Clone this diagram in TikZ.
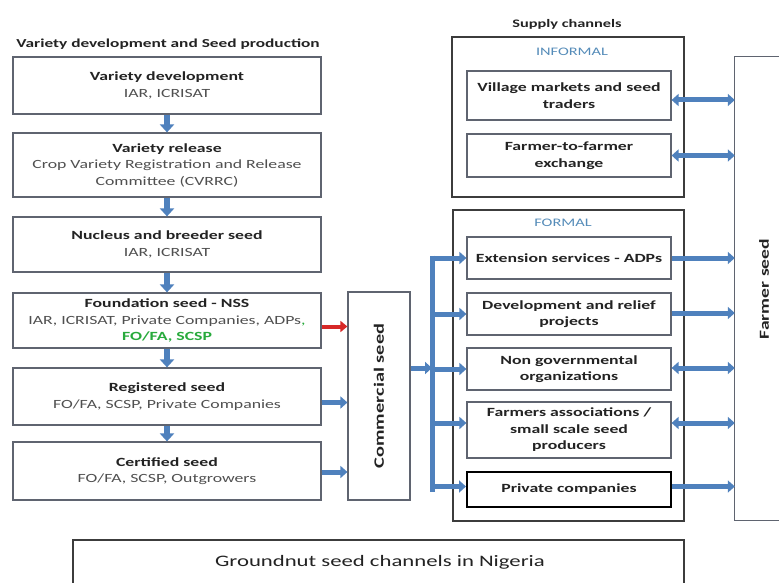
\documentclass[tikz,border=0pt]{standalone}
\usepackage{fontspec}
\setmainfont{Carlito}[FakeStretch=1.42]
\usetikzlibrary{arrows.meta}
\definecolor{arrblue}{RGB}{79,129,189}
\definecolor{boxgray}{RGB}{95,100,112}
\definecolor{outergray}{RGB}{60,60,60}
\definecolor{txt}{RGB}{35,35,35}
\definecolor{txtlight}{RGB}{80,80,80}
\definecolor{labblue}{RGB}{85,140,185}
\definecolor{seedgreen}{RGB}{40,170,60}
\definecolor{arrred}{RGB}{215,40,40}
\tikzset{
  x=1pt, y=-1pt,
  every node/.style={font=\fontsize{12.5}{16.5}\selectfont, text=txt},
  lbox/.style={draw=boxgray, line width=1.2pt, minimum width=308pt, minimum height=#1, inner sep=0pt, align=center},
  rbox/.style={draw=boxgray, line width=1.2pt, minimum width=204pt, minimum height=#1, inner sep=0pt, align=center, font=\bfseries\fontsize{12.5}{16.5}\selectfont},
  outerbox/.style={draw=outergray, line width=2pt, inner sep=0pt},
  downarr/.style={draw=arrblue, line width=6.5pt, -{Triangle[width=14pt,length=8pt]}},
  blkarr/.style={draw=arrblue, line width=5pt, -{Triangle[width=12pt,length=7pt]}},
  dblarr/.style={draw=arrblue, line width=5pt, {Triangle[width=12pt,length=7pt]}-{Triangle[width=12pt,length=7pt]}},
  redarr/.style={draw=arrred, line width=4pt, -{Triangle[width=11pt,length=7pt]}},
  heading/.style={font=\bfseries\fontsize{12.2}{15}\selectfont}
}
\begin{document}
\begin{tikzpicture}
\useasboundingbox (0,0) rectangle (779,583);
\fill[white] (0,0) rectangle (779,583);

% titles
\node[heading] (ltitle) at (168,44) {Variety development and Seed production};
\node[heading, font=\bfseries\fontsize{11.5}{14}\selectfont] (stitle) at (567,24) {Supply channels};

% left column
\node[lbox=57pt] (b1) at (167,85.5) {\textbf{Variety development}\\{\color{txtlight}IAR, ICRISAT}};
\node[lbox=64pt] (b2) at (167,165) {\textbf{Variety release}\\{\color{txtlight}Crop Variety Registration and Release}\\{\color{txtlight}Committee (CVRRC)}};
\node[lbox=55pt] (b3) at (167,244.5) {\textbf{Nucleus and breeder seed}\\{\color{txtlight}IAR, ICRISAT}};
\node[lbox=55pt] (b4) at (167,320.5) {\textbf{Foundation seed - NSS}\\{\color{txtlight}IAR, ICRISAT, Private Companies, ADPs}{\color{seedgreen},}\\{\color{seedgreen}\bfseries FO/FA, SCSP}};
\node[lbox=57pt] (b5) at (167,396.5) {\textbf{Registered seed}\\{\color{txtlight}FO/FA, SCSP, Private Companies}};
\node[lbox=58pt] (b6) at (167,471) {\textbf{Certified seed}\\{\color{txtlight}FO/FA, SCSP, Outgrowers}};

\draw[downarr] (b1.south) -- (b2.north);
\draw[downarr] (b2.south) -- (b3.north);
\draw[downarr] (b3.south) -- (b4.north);
\draw[downarr] (b4.south) -- (b5.north);
\draw[downarr] (b5.south) -- (b6.north);

% commercial seed
\node[draw=boxgray, line width=1.2pt, minimum width=62pt, minimum height=208pt, inner sep=0pt] (com) at (379,396) {};
\node[rotate=90, font=\bfseries\fontsize{14.3}{17}\selectfont] (comlab) at (com.center) {Commercial seed};

\draw[redarr] ([yshift=-6pt]b4.east) -- ([yshift=-6pt]b4.east -| com.west);
\draw[blkarr] ([yshift=-6pt]b5.east) -- ([yshift=-6pt]b5.east -| com.west);
\draw[blkarr] ([yshift=-1pt]b6.east) -- ([yshift=-1pt]b6.east -| com.west);

% informal
\node[outerbox, minimum width=232pt, minimum height=160pt] (inf) at (568,117) {};
\node[text=labblue, font=\fontsize{11.5}{14}\selectfont] (inflab) at (572,52) {INFORMAL};
\node[rbox=49pt] (vil) at (569,95.5) {Village markets and seed\\traders};
\node[rbox=43pt] (f2f) at (569,155.5) {Farmer-to-farmer\\exchange};

% formal
\node[outerbox, minimum width=231pt, minimum height=311pt] (for) at (568.5,365.5) {};
\node[text=labblue, font=\fontsize{11.5}{14}\selectfont] (forlab) at (563,223) {FORMAL};
\node[rbox=42pt] (ext) at (569,258) {Extension services - ADPs};
\node[rbox=42pt] (dev) at (569,314) {Development and relief\\projects};
\node[rbox=42pt] (ngo) at (569,369) {Non governmental\\organizations};
\node[rbox=56pt] (fa) at (569,430) {Farmers associations /\\small scale seed\\producers};
\node[rbox=35pt, draw=black, line width=2pt] (pc) at (569,489.5) {Private companies};

% farmer seed
\node[minimum width=44pt, minimum height=463pt, inner sep=0pt] (farm) at (757,288.5) {};
\draw[boxgray, line width=1.2pt] (farm.north east) -- (farm.north west) -- (farm.south west) -- (farm.south east);
\node[rotate=90, font=\bfseries\fontsize{13.8}{17}\selectfont] (farmlab) at (764,289) {Farmer seed};

% bottom title
\node[minimum width=611pt, minimum height=43pt, inner sep=0pt] (gt) at (378.5,561.5) {};
\draw[outergray, line width=2pt] (gt.south west) -- (gt.north west) -- (gt.north east) -- (gt.south east);
\node[font=\fontsize{16}{19}\selectfont] (gtlab) at (380,562) {Groundnut seed channels in Nigeria};

% bus
\coordinate (bt) at (432,258);
\coordinate (bb) at (432,489.5);
\draw[arrblue, line width=5pt] ([yshift=2.5pt]bt) -- ([yshift=-2.5pt]bb);
\draw[blkarr] ([yshift=28pt]com.east) -- ([yshift=28pt]com.east -| bt);
\draw[blkarr] (bt) -- (ext.west);
\draw[blkarr] (dev.west -| bt) -- (dev.west);
\draw[blkarr] (ngo.west -| bt) -- (ngo.west);
\draw[blkarr] ([yshift=7pt]fa.west -| bt) -- ([yshift=7pt]fa.west);
\draw[blkarr] ([yshift=3pt]pc.west -| bt) -- ([yshift=3pt]pc.west);

% to farmer seed
\draw[dblarr] ([yshift=-4.5pt]vil.east) -- ([yshift=-4.5pt]vil.east -| farm.west);
\draw[dblarr] (f2f.east) -- (f2f.east -| farm.west);
\draw[blkarr] (ext.east) -- (ext.east -| farm.west);
\draw[blkarr] ([yshift=1pt]dev.east) -- ([yshift=1pt]dev.east -| farm.west);
\draw[dblarr] ([yshift=1pt]ngo.east) -- ([yshift=1pt]ngo.east -| farm.west);
\draw[dblarr] ([yshift=7pt]fa.east) -- ([yshift=7pt]fa.east -| farm.west);
\draw[blkarr] ([yshift=3pt]pc.east) -- ([yshift=3pt]pc.east -| farm.west);
\end{tikzpicture}
\end{document}
